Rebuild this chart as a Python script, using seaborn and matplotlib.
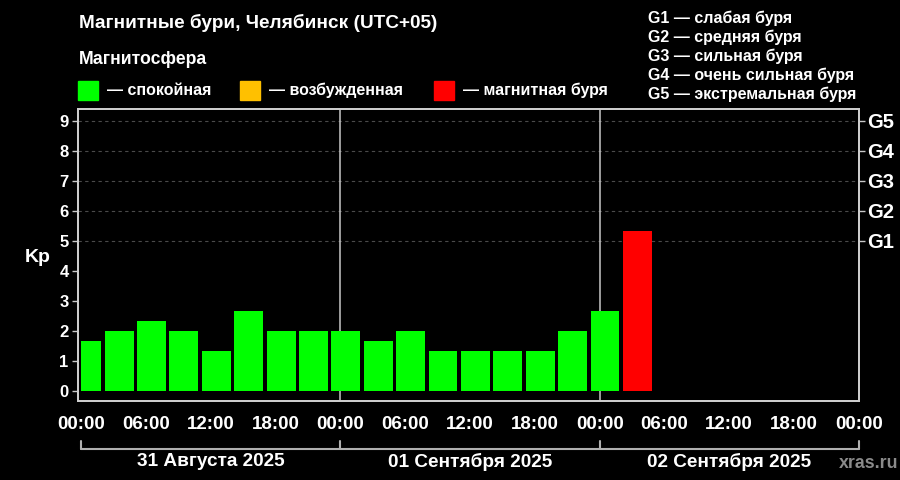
import pandas as pd
import matplotlib
matplotlib.use("Agg")
import matplotlib.pyplot as plt
import matplotlib.transforms as mtransforms
from matplotlib.patches import Rectangle
import seaborn as sns

# -----------------------------
# DATA (3-hour Kp index, local time UTC+05)
# -----------------------------
# centre of each 3-hour interval, hours since 31 Aug 00:00
bar_hours = [0.5, 3.5, 6.5, 9.5, 12.5, 15.5, 18.5, 21.5,
             24.5, 27.5, 30.5, 33.5, 36.5, 39.5, 42.5, 45.5,
             48.5, 51.5]
kp_values = [1.67, 2.0, 2.33, 2.0, 1.33, 2.67, 2.0, 2.0,
             2.0, 1.67, 2.0, 1.33, 1.33, 1.33, 1.33, 2.0,
             2.67, 5.33]

tick_hours = [0, 6, 12, 18, 24, 30, 36, 42, 48, 54, 60, 66, 72]
tick_labels = ["00:00", "06:00", "12:00", "18:00",
               "00:00", "06:00", "12:00", "18:00",
               "00:00", "06:00", "12:00", "18:00", "00:00"]
minor_hours = [3, 9, 15, 21, 27, 33, 39, 45, 51, 57, 63, 69]

day_starts = [0, 24, 48]
day_labels = ["31 Августа 2025", "01 Сентября 2025", "02 Сентября 2025"]

g_levels = [5, 6, 7, 8, 9]
g_labels = ["G1", "G2", "G3", "G4", "G5"]
g_descr = ["G1 — слабая буря", "G2 — средняя буря", "G3 — сильная буря",
           "G4 — очень сильная буря", "G5 — экстремальная буря"]

state_labels = ["— спокойная", "— возбужденная", "— магнитная буря"]
state_colors = ["#00ff00", "#ffc000", "#ff0000"]

FG = "white"
AXIS_GREY = "#d0d0d0"

# -----------------------------
# STYLE
# -----------------------------
sns.set_style("dark")
plt.rcParams["font.family"] = ["Liberation Sans", "DejaVu Sans"]
plt.rcParams["font.weight"] = "bold"
plt.rcParams["figure.facecolor"] = "black"
plt.rcParams["axes.facecolor"] = "black"

W, H = 900, 480
fig = plt.figure(figsize=(9, 4.8), dpi=100)
ax = fig.add_axes([78.3 / W, 1 - 401 / H, (859 - 78.3) / W, (401 - 109) / H])


def fx(x):
    return x / W


def fy(y):
    return 1 - y / H


def colour_for(kp):
    if kp >= 5:
        return state_colors[2]
    if kp >= 4:
        return state_colors[1]
    return state_colors[0]


# -----------------------------
# BARS
# -----------------------------
df = pd.DataFrame({"hour": bar_hours, "kp": kp_values})
sns.barplot(data=df, x="hour", y="kp", native_scale=True, width=0.89,
            color=state_colors[0], saturation=1, errorbar=None,
            linewidth=0, ax=ax, zorder=3)

for patch, kp in zip(ax.patches, df["kp"]):
    patch.set_facecolor(colour_for(kp))
    # the first interval starts before 00:00 -> clip to data window
    if patch.get_x() < 0:
        right = patch.get_x() + patch.get_width()
        patch.set_x(0)
        patch.set_width(right)

# grid for storm levels and day separators
for g in g_levels:
    ax.axhline(g, color="#4a4a4a", lw=0.8, ls=(0, (3, 3)), zorder=0)
for d in day_starts[1:]:
    ax.axvline(d, color="#c8c8c8", lw=1.1, zorder=1)

ax.set_xlim(-0.28, 72.02)
ax.set_ylim(-0.33, 9.39)
ax.set_xlabel("")
ax.set_ylabel("")

ax.set_xticks(tick_hours, tick_labels)
ax.set_xticks(minor_hours, minor=True)
ax.set_yticks(range(10))
ax.tick_params(axis="x", which="major", length=7.2, width=1, color="#c8c8c8",
               labelcolor=FG, labelsize=13.5, pad=3.5)
ax.tick_params(axis="x", which="minor", length=3.1, width=1, color="#c8c8c8")
ax.tick_params(axis="y", length=4, width=1, color="#c8c8c8",
               labelcolor=FG, labelsize=12, pad=3, left=True)
for lab in ax.get_xticklabels() + ax.get_yticklabels():
    lab.set_fontweight("bold")

ax2 = ax.twinx()
ax2.set_ylim(ax.get_ylim())
ax2.set_yticks(g_levels, g_labels)
ax2.tick_params(axis="y", length=4, width=1, color="#c8c8c8",
                labelcolor=FG, labelsize=14.5, pad=2, right=True)
for lab in ax2.get_yticklabels():
    lab.set_fontweight("bold")

for a in (ax, ax2):
    for sp in a.spines.values():
        sp.set_color(AXIS_GREY)
        sp.set_linewidth(1.3)
        sp.set_visible(True)
    a.grid(False)

# -----------------------------
# DATE BRACKET UNDER THE AXIS
# -----------------------------
blend = mtransforms.blended_transform_factory(ax.transData, fig.transFigure)
ax.plot([0, 72], [fy(449.3), fy(449.3)], color="#b0b0b0", lw=1.5,
        transform=blend, clip_on=False)
for d in day_starts + [72]:
    ax.plot([d, d], [fy(440.5), fy(449.3)], color="#b0b0b0", lw=1.5,
            transform=blend, clip_on=False)
for d, lab in zip(day_starts, day_labels):
    ax.text(d + 12, fy(462), lab, transform=blend, ha="center", va="center",
            color=FG, fontsize=13.7, fontweight="bold")

# -----------------------------
# TEXTS AND LEGENDS
# -----------------------------
fig.text(fx(79), fy(22.5), "Магнитные бури, Челябинск (UTC+05)", color=FG,
         fontsize=13.7, fontweight="bold", va="center", ha="left")
fig.text(fx(79), fy(60), "Магнитосфера", color=FG,
         fontsize=12.7, fontweight="bold", va="center", ha="left")

key_x = [78, 240, 434]
for kx, lab, col in zip(key_x, state_labels, state_colors):
    fig.patches.append(Rectangle((fx(kx), fy(100)), 20 / W, 19 / H,
                                 transform=fig.transFigure, color=col))
    fig.text(fx(kx + 29), fy(90.5), lab, color=FG, fontsize=11.5,
             fontweight="bold", va="center", ha="left")

for i, txt in enumerate(g_descr):
    fig.text(fx(648), fy(17.8 + 19.05 * i), txt, color=FG, fontsize=11.5,
             fontweight="bold", va="center", ha="left")

fig.text(fx(38), fy(257), "Kp", color=FG, fontsize=14, fontweight="bold",
         va="center", ha="center")
fig.text(fx(898), fy(463), "xras.ru", color="#8a8a8a", fontsize=12.8,
         fontweight="bold", va="center", ha="right")

fig.savefig("out.png", dpi=100, facecolor="black")
